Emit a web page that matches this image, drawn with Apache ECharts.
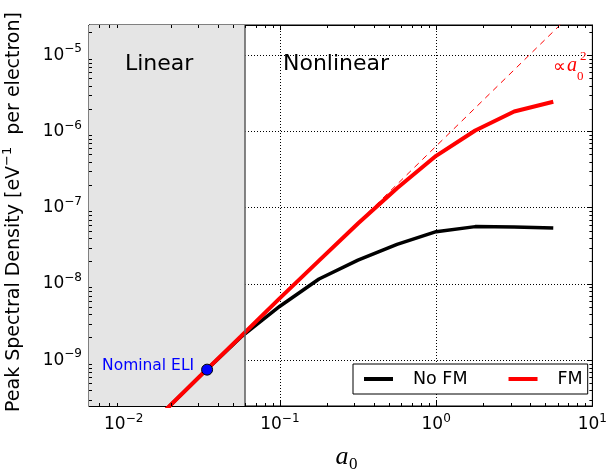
<!DOCTYPE html>
<html><head><meta charset="utf-8">
<script src="https://cdn.jsdelivr.net/npm/echarts@6/dist/echarts.min.js"></script>
<style>html,body{margin:0;padding:0;background:#fff}#c{width:610px;height:474px}</style>
</head><body><div id="c"></div>
<script>
// ---- data ----
const a0 = [0.0178, 0.0316, 0.0562, 0.1, 0.178, 0.316, 0.562, 1.0, 1.78, 3.16, 5.62];
const noFM = [2.04e-10, 6.5e-10, 2.0e-9, 5.1e-9, 1.16e-8, 2.05e-8, 3.3e-8, 4.85e-8, 5.65e-8, 5.6e-8, 5.4e-8];
const fm = [2.04e-10, 6.5e-10, 2.04e-9, 6.5e-9, 2.02e-8, 6.2e-8, 1.8e-7, 4.8e-7, 1.03e-6, 1.83e-6, 2.46e-6];
const guideA0 = [0.0178, 10];
const guideY = [2.0e-10, 6.5e-5];
const nominalELI = [0.0342, 7.5e-10];
const linearLimit = 0.06;
const seriesNames = ['No FM', 'FM'];
const regionLabels = ['Linear', 'Nonlinear'];
const xMin = 0.006, xMax = 10, yMin = 2.5e-10, yMax = 2.5e-5;

const FONT = '"DejaVu Sans", sans-serif';
function powLabel(v) {
  const e = Math.log10(v), r = Math.round(e);
  if (Math.abs(e - r) > 1e-6) return '';
  return '{b|10}{s|' + (r < 0 ? '\u2212' + (-r) : String(r)) + '}';
}
const tickRich = {
  b: {fontSize: 17, fontFamily: FONT, color: '#000', lineHeight: 24},
  s: {fontSize: 12, fontFamily: FONT, color: '#000', lineHeight: 12, verticalAlign: 'top'}
};
const split = {show: true, lineStyle: {color: '#000', width: 1, type: [1, 2]}};
const tick = {show: true, inside: true, length: 5, lineStyle: {color: '#000', width: 1}};
const line = {show: true, onZero: false, lineStyle: {color: '#000', width: 1}};

const chart = echarts.init(document.getElementById('c'), null, {renderer: 'canvas'});
const option = {
  animation: false,
  backgroundColor: '#fff',
  grid: {left: 89, right: 13, top: 25, bottom: 68, show: true, borderColor: '#000', borderWidth: 1, backgroundColor: 'transparent'},
  xAxis: [
    {type: 'log', logBase: 10, min: xMin, max: xMax, position: 'bottom', axisLine: line, axisTick: tick, splitLine: split,
     axisLabel: {formatter: powLabel, rich: tickRich, margin: 7, showMinLabel: false}},
    {type: 'log', logBase: 10, min: xMin, max: xMax, position: 'top', axisLine: line, axisTick: tick, splitLine: {show: false}, axisLabel: {show: false}}
  ],
  yAxis: [
    {type: 'log', logBase: 10, min: yMin, max: yMax, position: 'left', axisLine: line, axisTick: tick, splitLine: split,
     axisLabel: {formatter: powLabel, rich: tickRich, margin: 7, showMinLabel: false, showMaxLabel: false}},
    {type: 'log', logBase: 10, min: yMin, max: yMax, position: 'right', axisLine: line, axisTick: tick, splitLine: {show: false}, axisLabel: {show: false}}
  ],
  legend: {
    data: seriesNames, left: 353, top: 364, orient: 'horizontal', selectedMode: false,
    backgroundColor: '#fff', borderColor: '#000', borderWidth: 1, borderRadius: 0,
    padding: [6, 5, 6, 11], itemWidth: 29, itemHeight: 4, itemGap: 41, icon: 'rect',
    formatter: n => '{g|}' + n,
    textStyle: {fontSize: 17.5, fontFamily: FONT, color: '#000', rich: {g: {width: 15}}}
  },
  series: [
    {type: 'line', name: 'region', data: [], z: -1, silent: true,
     markArea: {silent: true, itemStyle: {color: '#e5e5e5'}, data: [[{xAxis: xMin}, {xAxis: linearLimit}]]},
     markLine: {silent: true, symbol: 'none', label: {show: false}, lineStyle: {color: '#666', width: 1.6, type: 'solid'},
       data: [{xAxis: linearLimit}]}},
    {type: 'line', name: seriesNames[0], data: a0.map((x, i) => [x, noFM[i]]), showSymbol: false, symbol: 'none',
     color: '#000', lineStyle: {color: '#000', width: 3.5}, z: 3},
    {type: 'line', name: seriesNames[1], data: a0.map((x, i) => [x, fm[i]]), showSymbol: false, symbol: 'none',
     color: '#ff0000', lineStyle: {color: '#ff0000', width: 4}, z: 4},
    {type: 'line', name: 'guide', data: guideA0.map((x, i) => [x, guideY[i]]), showSymbol: false, symbol: 'none',
     lineStyle: {color: '#ff0000', width: 1, type: [6, 5]}, z: 5},
    {type: 'scatter', name: 'Nominal ELI', data: [nominalELI], symbolSize: 11, z: 6,
     itemStyle: {color: '#0000ff', borderColor: '#000', borderWidth: 1, opacity: 1},
     label: {show: true, position: 'left', distance: 7, offset: [0, -4], formatter: 'Nominal ELI',
       color: '#0000ff', fontSize: 15.5, fontFamily: FONT}}
  ]
};
chart.setOption(option);

// decorations: texts + minor ticks from the axes' own scales
const px = v => chart.convertToPixel({xAxisIndex: 0}, v);
const py = v => chart.convertToPixel({yAxisIndex: 0}, v);
const L = px(xMin), R = px(xMax), T = py(yMax), B = py(yMin);
const g = [];
function seg(x1, y1, x2, y2) {
  g.push({type: 'line', silent: true, z: 50, shape: {x1, y1, x2, y2}, style: {stroke: '#000', lineWidth: 1}});
}
for (let d = -3; d <= 1; d++) for (let m = 2; m <= 9; m++) {
  const v = m * Math.pow(10, d);
  if (v > xMin && v < xMax) { const x = Math.round(px(v)) + 0.5; seg(x, B, x, B - 3); seg(x, T, x, T + 3); }
}
for (let d = -11; d <= -4; d++) for (let m = 2; m <= 9; m++) {
  const v = m * Math.pow(10, d);
  if (v > yMin && v < yMax) { const y = Math.round(py(v)) + 0.5; seg(L, y, L + 3, y); seg(R, y, R - 3, y); }
}
g.push({type: 'text', z: 60, silent: true, style: {x: 125, y: 64, text: regionLabels[0], font: '22px ' + FONT, fill: '#000', verticalAlign: 'middle'}});
g.push({type: 'text', z: 60, silent: true, style: {x: 283, y: 64, text: regionLabels[1], font: '22px ' + FONT, fill: '#000', verticalAlign: 'middle'}});
g.push({type: 'text', z: 60, silent: true, x: 14, y: 212, rotation: Math.PI / 2,
  style: {x: 0, y: 0, align: 'center', verticalAlign: 'middle',
    text: '{t|Peak Spectral Density [eV}{s|\u22121}{t|  per electron]}',
    rich: {t: {fontSize: 19, fontFamily: FONT, fill: '#000', lineHeight: 26},
           s: {fontSize: 13, fontFamily: FONT, fill: '#000', lineHeight: 13, verticalAlign: 'top'}}}});
g.push({type: 'text', z: 60, silent: true, style: {x: 342, y: 457, text: 'a', font: 'italic 26px "Liberation Serif", serif', fill: '#000', align: 'center', verticalAlign: 'middle'}});
g.push({type: 'text', z: 60, silent: true, style: {x: 349, y: 465, text: '0', font: '17px "Liberation Serif", serif', fill: '#000', align: 'left', verticalAlign: 'middle'}});
g.push({type: 'text', z: 60, silent: true, style: {x: 559.5, y: 67, text: '\u221d', font: '18px "DejaVu Sans", sans-serif', fill: '#ff0000', align: 'center', verticalAlign: 'middle'}});
g.push({type: 'text', z: 60, silent: true, style: {x: 572, y: 66, text: 'a', font: 'italic 20px "Liberation Serif", serif', fill: '#ff0000', align: 'center', verticalAlign: 'middle'}});
g.push({type: 'text', z: 60, silent: true, style: {x: 577, y: 77, text: '0', font: '13px "Liberation Serif", serif', fill: '#ff0000', align: 'left', verticalAlign: 'middle'}});
g.push({type: 'text', z: 60, silent: true, style: {x: 580, y: 57, text: '2', font: '13px "Liberation Serif", serif', fill: '#ff0000', align: 'left', verticalAlign: 'middle'}});
chart.setOption({graphic: g});
</script></body></html>
